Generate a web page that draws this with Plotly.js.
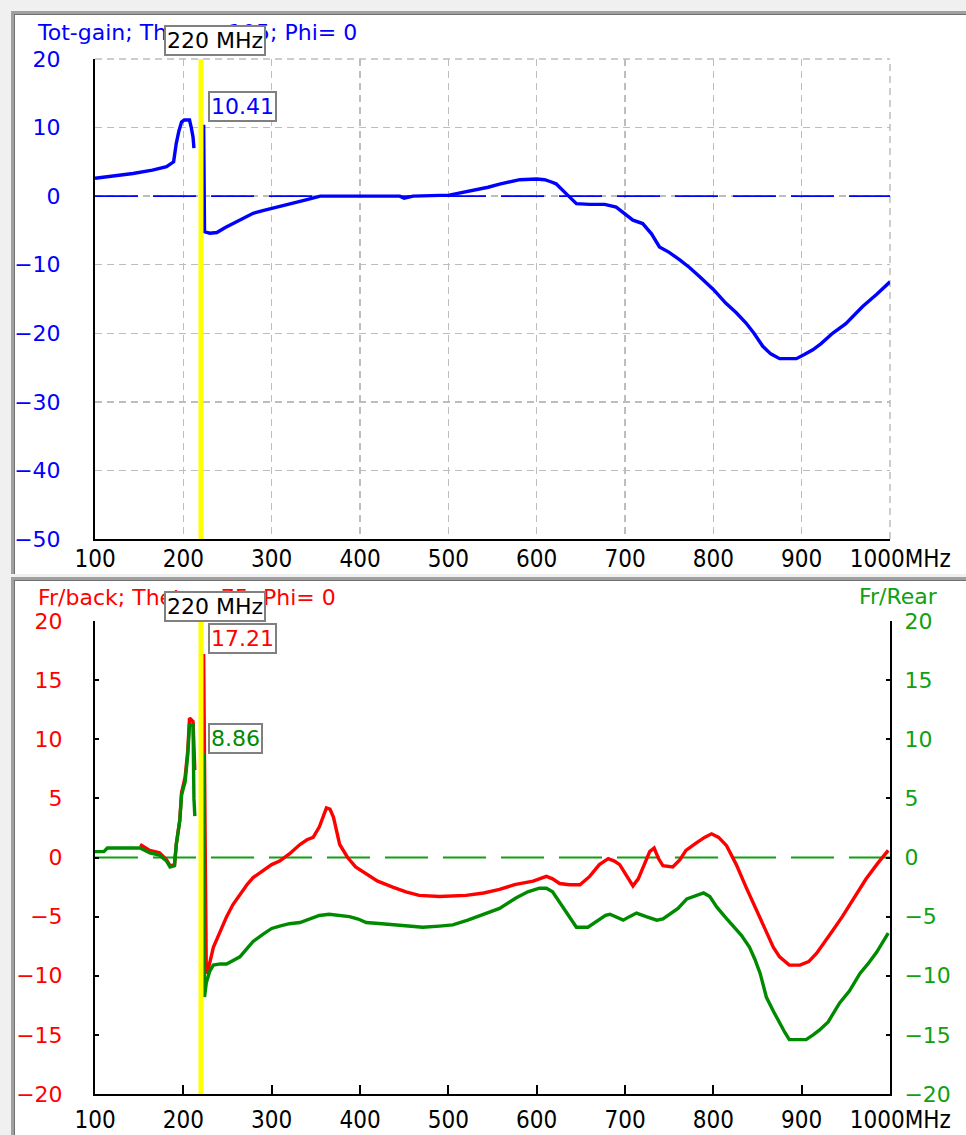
<!DOCTYPE html>
<html>
<head>
<meta charset="utf-8">
<script src="https://cdn.plot.ly/plotly-3.0.1.min.js"></script>
<style>
  html, body { margin: 0; padding: 0; background: #f0f0f0; width: 966px; height: 1135px; overflow: hidden; }
  .panel { position: absolute; left: 11px; width: 955px; height: 560px; background: #ffffff;
           border-left: 3px solid #a0a0a0; border-top: 3px solid #a0a0a0; box-shadow: inset 1px 1px 0 #707070; }
  #p1 { top: 11px; }
  #p2 { top: 577px; }
  .plot { position: absolute; left: 1px; top: 1px; }
</style>
</head>
<body>
<div class="panel" id="p1"><div class="plot" id="gainPlot"></div></div>
<div class="panel" id="p2"><div class="plot" id="ratioPlot"></div></div>
<script>
// ---- Sweep data (MHz, dB) ----
const freqGain = [100, 120, 143, 165, 181, 189, 192, 195, 198, 201, 207, 209, 211, 212, null,
  223, 223.5, 224, 230, 238, 247, 256, 268, 279, 290, 300, 312, 324, 340, 355, 400, 445, 450, 460,
  501, 515, 528, 545, 558, 570, 581, 600, 609, 616, 622, 633, 645, 660, 677, 690, 700, 709, 720,
  730, 739, 750, 762, 773, 784, 800, 814, 826, 837, 846, 856, 865, 875, 894, 903, 912.6, 922, 935,
  950, 969, 985, 1000];
const totGain = [2.6, 2.9, 3.3, 3.8, 4.3, 5.0, 7.7, 9.5, 10.8, 11.1, 11.1, 10.0, 8.6, 7.0, null,
  10.41, 2.3, -5.2, -5.4, -5.3, -4.6, -4.0, -3.2, -2.5, -2.1, -1.8, -1.4, -1.0, -0.5, 0.0, 0.0, 0.0, -0.3, 0.0,
  0.15, 0.5, 0.9, 1.3, 1.75, 2.1, 2.4, 2.5, 2.4, 2.1, 1.8, 0.4, -1.1, -1.2, -1.2, -1.6, -2.6, -3.5, -4.0,
  -5.5, -7.4, -8.2, -9.3, -10.4, -11.7, -13.6, -15.6, -17.0, -18.5, -20.0, -21.9, -23.0, -23.7, -23.7, -23.1, -22.4, -21.5, -20.0,
  -18.6, -16.1, -14.3, -12.5];

const freqBack = [151, 162, 173, 181, 185, 190, 192, 196, 198, 202, 205, 207, 211, 213, null,
  223, 224, 225, 226, 228, 234, 242, 249, 256, 264, 272, 279, 290, 300, 309, 320, 332, 340, 347, 354,
  358, 362, 366, 370, 377, 386, 395, 407, 420, 437, 452, 467, 490, 520, 540, 558, 575, 596, 605, 611,
  618, 626, 637, 649, 660, 671, 681, 688, 694, 702, 709, 715, 722, 728, 733, 738, 743, 754, 762, 769,
  780, 790, 798, 806, 815, 826, 837, 849, 860, 868, 875, 886, 898, 908, 917, 926, 935, 946, 958, 966,
  973, 986, 998];
const frBack = [1.1, 0.6, 0.4, -0.2, -0.7, -0.6, 1.1, 3.2, 5.5, 6.8, 9.0, 11.8, 11.5, 7.4, null,
  17.21, 3.1, -1.4, -9.8, -9.5, -7.6, -6.2, -5.0, -4.0, -3.1, -2.3, -1.7, -1.1, -0.6, -0.3, 0.3, 1.1, 1.5, 1.7, 2.6,
  3.4, 4.2, 4.1, 3.4, 1.1, 0.0, -0.8, -1.4, -2.0, -2.5, -2.9, -3.2, -3.3, -3.2, -3.0, -2.7, -2.3, -2.0, -1.8, -1.6,
  -1.8, -2.2, -2.3, -2.3, -1.6, -0.6, -0.1, -0.3, -0.6, -1.5, -2.4, -1.8, -0.6, 0.5, 0.8, -0.1, -0.7, -0.8, -0.2, 0.6,
  1.2, 1.7, 2.0, 1.7, 1.0, -0.6, -2.5, -4.5, -6.4, -7.6, -8.4, -9.1, -9.1, -8.8, -8.1, -7.2, -6.2, -5.0, -3.6, -2.7,
  -1.8, -0.5, 0.6];

const freqRear = [100, 110, 114, 151, 162, 173, 181, 185, 190, 192, 196, 198, 202, 205, 207, 211, 212, 213, null,
  223, 224, 226, 230, 234, 242, 249, 256, 264, 272, 279, 290, 300, 309, 320, 332, 343, 354, 365, 375,
  388, 398, 407, 425, 445, 460, 471, 490, 505, 522, 539, 558, 577, 590, 603, 611, 618, 630, 645, 658,
  668, 678, 683, 690, 698, 705, 713, 724, 736, 743, 751, 760, 770, 780, 789, 796, 804, 813, 823, 832,
  841, 847, 853, 860, 868, 875, 881, 886, 896, 905, 913, 920, 930, 943, 954, 966, 975, 985, 998];
const frRear = [0.5, 0.5, 0.8, 0.8, 0.4, 0.2, -0.3, -0.8, -0.7, 1.1, 3.1, 5.3, 6.4, 8.7, 11.2, 11.2, 5.0, 3.5, null,
  8.86, -11.8, -10.6, -9.6, -9.1, -9.0, -9.0, -8.7, -8.4, -7.7, -7.1, -6.5, -6.0, -5.8, -5.6, -5.5, -5.2, -4.9, -4.8, -4.9,
  -5.0, -5.2, -5.5, -5.6, -5.7, -5.8, -5.9, -5.8, -5.7, -5.3, -4.8, -4.3, -3.4, -2.9, -2.6, -2.6, -2.9, -4.2, -5.9, -5.9,
  -5.4, -4.9, -4.8, -5.0, -5.3, -5.0, -4.7, -5.0, -5.3, -5.2, -4.8, -4.3, -3.5, -3.2, -3.0, -3.3, -4.2, -5.0, -5.9, -6.6,
  -7.6, -8.6, -9.8, -11.8, -13.0, -14.0, -14.8, -15.4, -15.4, -15.4, -15.0, -14.6, -13.9, -12.3, -11.3, -9.8, -9.0, -8.0, -6.4];

// ---- Axis ticks and cursor readout ----
const freqTicks = [100, 200, 300, 400, 500, 600, 700, 800, 900, 1000];
const freqTickText = ['100', '200', '300', '400', '500', '600', '700', '800', '900', '\u00a0\u00a0\u00a01000MHz'];
const gainTicks = [-50, -40, -30, -20, -10, 0, 10, 20];
const ratioTicks = [-20, -15, -10, -5, 0, 5, 10, 15, 20];
const cursorFreq = 220;
const cursorGain = 10.41;
const cursorBack = 17.21;
const cursorRear = 8.86;

const FONT = 'DejaVu Sans, Verdana, sans-serif';
const XFONT = 'DejaVu Sans Condensed, DejaVu Sans, sans-serif';
const BLUE = '#0000ff', RED = '#ff0000', GREEN = '#008a00', GREEN_TXT = '#10a010';
const GRID = '#bdbdbd';

function cursorLine() {
  return { type: 'line', xref: 'x', yref: 'paper', x0: cursorFreq, x1: cursorFreq, y0: 0, y1: 1,
           line: { color: '#ffff00', width: 5 }, layer: 'above' };
}
function zeroLine(color, layer) {
  return { type: 'line', xref: 'paper', yref: 'y', x0: 0, x1: 1, y0: 0, y1: 0,
           line: { color: color, width: 1.8, dash: '43px,15px' }, layer: layer };
}
function frameEdge(x0, y0, x1, y1) {
  return { type: 'line', xref: 'paper', yref: 'paper', x0: x0, y0: y0, x1: x1, y1: y1,
           line: { color: GRID, width: 1.5, dash: '7px,5px' }, layer: 'below' };
}
function box(text, color, x, xanchor, xshift, y) {
  return { text: text, xref: 'x', yref: 'paper', x: x, y: y, xanchor: xanchor, xshift: xshift, yanchor: 'middle',
           showarrow: false, bgcolor: '#ffffff', bordercolor: '#808080', borderwidth: 2, borderpad: 1,
           font: { family: FONT, size: 22, color: color } };
}

// ---- Total gain panel ----
const gainLayout = {
  width: 951, height: 558,
  margin: { l: 80, r: 76, t: 44, b: 34 },
  paper_bgcolor: '#ffffff', plot_bgcolor: '#ffffff',
  showlegend: false, hovermode: false,
  title: { text: 'Tot-gain; Theta= 105; Phi= 0', font: { family: FONT, size: 22, color: BLUE },
           xref: 'container', x: 23 / 951, xanchor: 'left', yref: 'container', y: 1 - 17 / 558, yanchor: 'middle' },
  xaxis: { range: [100, 1000], tickvals: freqTicks, ticktext: freqTickText, ticks: '', tickangle: 0,
           ticklabelstandoff: -3,
           showline: true, linecolor: '#000000', linewidth: 2, zeroline: false,
           showgrid: true, gridcolor: GRID, gridwidth: 1.5, griddash: '7px,5px',
           tickfont: { family: XFONT, size: 24, color: '#000000' } },
  yaxis: { range: [-50, 20], tickvals: gainTicks, ticks: '', ticklabelstandoff: 28,
           showline: true, linecolor: '#000000', linewidth: 2, zeroline: false,
           showgrid: true, gridcolor: GRID, gridwidth: 1.5, griddash: '7px,5px',
           tickfont: { family: FONT, size: 22, color: BLUE } },
  shapes: [frameEdge(0, 1, 1, 1), frameEdge(1, 0, 1, 1), zeroLine(BLUE, 'above'), cursorLine()],
  annotations: [
    box(cursorFreq + ' MHz', '#000000', cursorFreq, 'center', 14, 1 + 18 / 480),
    box(cursorGain.toFixed(2), BLUE, cursorFreq, 'left', 7, 0.901)
  ]
};
Plotly.newPlot('gainPlot', [
  { x: freqGain, y: totGain, type: 'scatter', mode: 'lines', connectgaps: false,
    line: { color: BLUE, width: 3.4 } }
], gainLayout, { staticPlot: true, displayModeBar: false });

// ---- Front/back and front/rear panel ----
const ratioLayout = {
  width: 951, height: 554,
  margin: { l: 80, r: 76, t: 40, b: 41 },
  paper_bgcolor: '#ffffff', plot_bgcolor: '#ffffff',
  showlegend: false, hovermode: false,
  title: { text: 'Fr/back; Theta= 75; Phi= 0', font: { family: FONT, size: 22, color: RED },
           xref: 'container', x: 23 / 951, xanchor: 'left', yref: 'container', y: 1 - 16 / 554, yanchor: 'middle' },
  xaxis: { range: [100, 1000], tickvals: freqTicks, ticktext: freqTickText, tickangle: 0,
           ticks: 'inside', ticklen: 9, tickwidth: 2, tickcolor: '#000000', ticklabelstandoff: 3,
           showline: true, linecolor: '#000000', linewidth: 2, zeroline: false, showgrid: false,
           tickfont: { family: XFONT, size: 24, color: '#000000' } },
  yaxis: { range: [-20, 20], tickvals: ratioTicks, ticks: 'inside', ticklen: 4, tickwidth: 2, tickcolor: '#000000',
           ticklabelstandoff: 26,
           showline: true, linecolor: '#000000', linewidth: 2, zeroline: false, showgrid: false,
           tickfont: { family: FONT, size: 22, color: RED } },
  yaxis2: { range: [-20, 20], tickvals: ratioTicks, overlaying: 'y', side: 'right',
            ticks: 'inside', ticklen: 4, tickwidth: 2, tickcolor: '#000000', ticklabelstandoff: 8,
            showline: true, linecolor: '#000000', linewidth: 2, zeroline: false, showgrid: false,
            tickfont: { family: FONT, size: 22, color: GREEN_TXT } },
  shapes: [zeroLine('#10a010', 'below'), cursorLine()],
  annotations: [
    box(cursorFreq + ' MHz', '#000000', cursorFreq, 'center', 14, 1 + 15 / 473),
    box(cursorBack.toFixed(2), RED, cursorFreq, 'left', 7, 0.962),
    box(cursorRear.toFixed(2), GREEN, cursorFreq, 'left', 7, 0.7526),
    { text: 'Fr/Rear', xref: 'paper', yref: 'paper', x: 1 + 50 / 795, y: 1 + 25 / 473,
      xanchor: 'right', yanchor: 'middle', showarrow: false,
      font: { family: FONT, size: 22, color: GREEN_TXT } }
  ]
};
Plotly.newPlot('ratioPlot', [
  { x: freqBack, y: frBack, type: 'scatter', mode: 'lines', connectgaps: false, yaxis: 'y',
    line: { color: RED, width: 3.4 } },
  { x: freqRear, y: frRear, type: 'scatter', mode: 'lines', connectgaps: false, yaxis: 'y2',
    line: { color: GREEN, width: 3.4 } }
], ratioLayout, { staticPlot: true, displayModeBar: false });
</script>
</body>
</html>
